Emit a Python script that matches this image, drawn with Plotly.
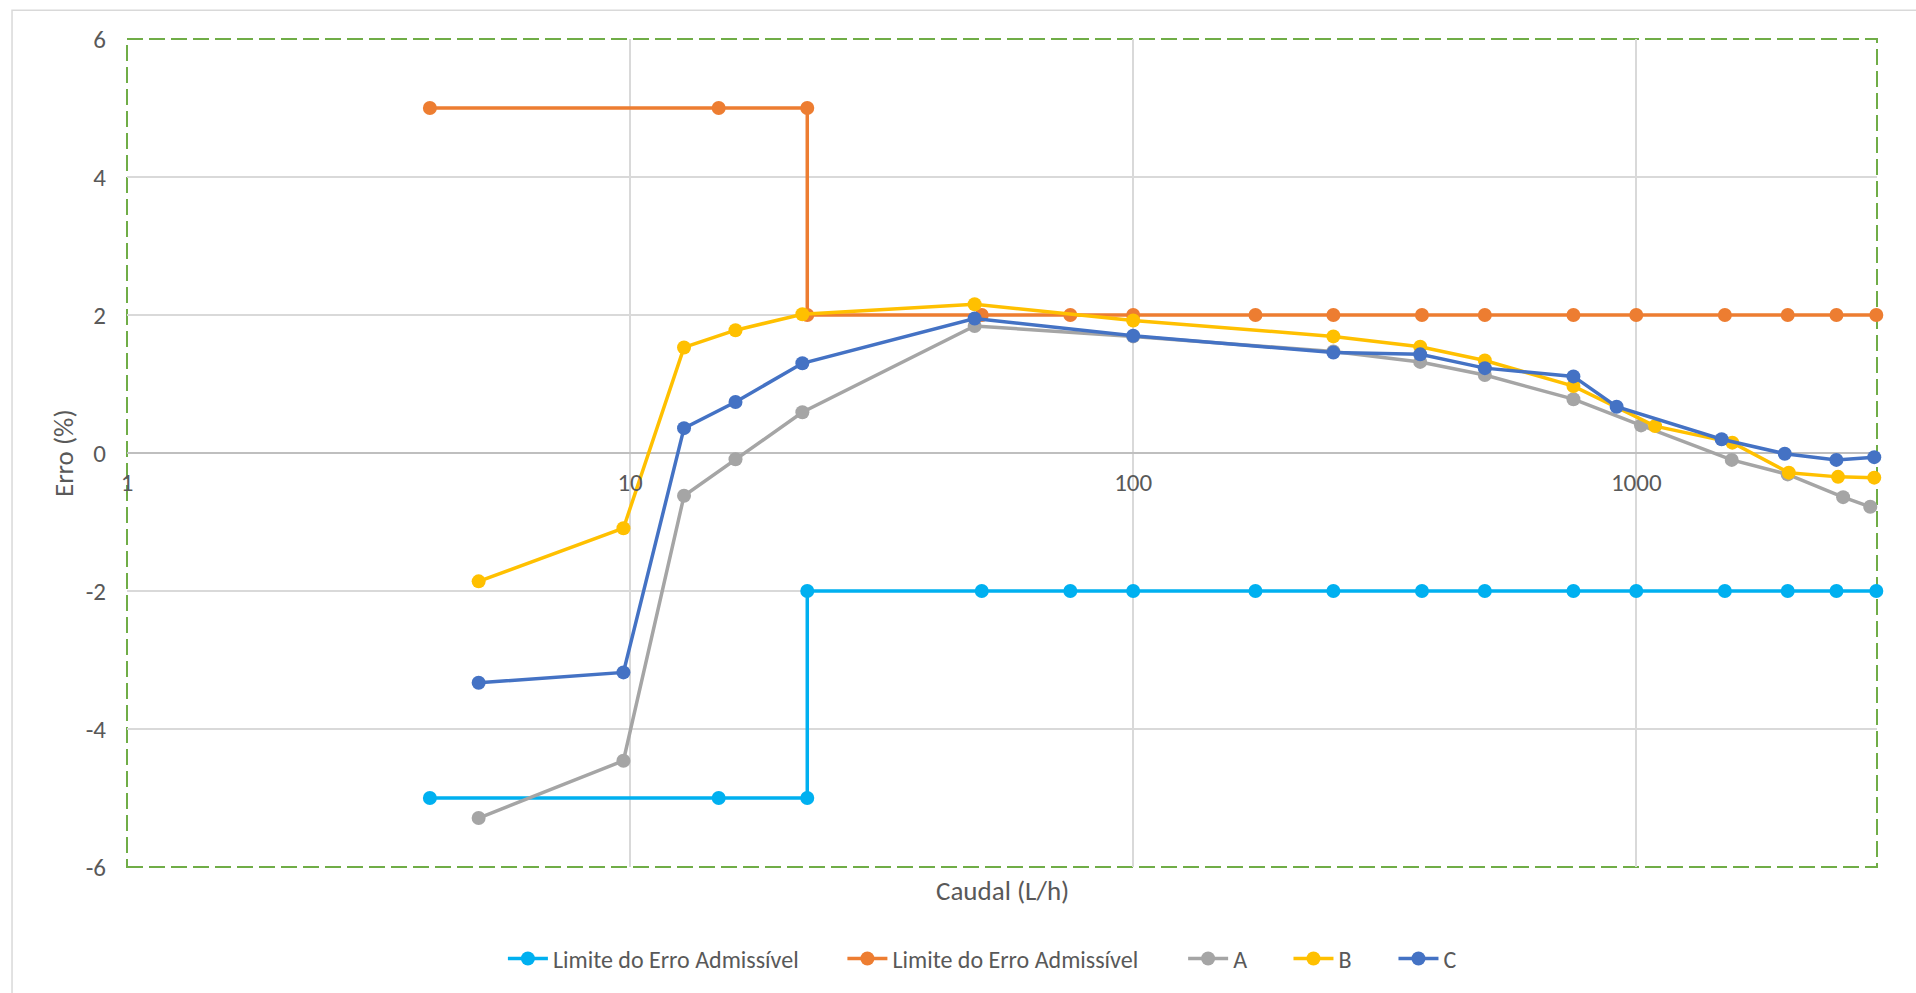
import plotly.graph_objects as go

# Flow rates (L/h) and error limits (%)
limit_x = [4, 15, 22.5, 22.5, 50, 75, 100, 175, 250, 375, 500, 750, 1000, 1500, 2000, 2500, 3000]
limit_lower = [-5, -5, -5, -2, -2, -2, -2, -2, -2, -2, -2, -2, -2, -2, -2, -2, -2]
limit_upper = [5, 5, 5, 2, 2, 2, 2, 2, 2, 2, 2, 2, 2, 2, 2, 2, 2]

# Measured errors for meters A, B and C
a_x = [5, 9.7, 12.8, 16.2, 22, 48.4, 100, 250, 372, 500, 750, 1022, 1548, 2000, 2577, 2918]
a_y = [-5.29, -4.46, -0.62, -0.09, 0.59, 1.84, 1.69, 1.47, 1.32, 1.13, 0.78, 0.40, -0.10, -0.31, -0.64, -0.78]

b_x = [5, 9.7, 12.8, 16.2, 22, 48.4, 100, 250, 372, 500, 750, 1090, 1552, 2010, 2518, 2972]
b_y = [-1.86, -1.09, 1.53, 1.78, 2.01, 2.155, 1.92, 1.69, 1.54, 1.34, 0.97, 0.39, 0.15, -0.285, -0.346, -0.357]

c_x = [5, 9.7, 12.8, 16.2, 22, 48.4, 100, 250, 372, 500, 750, 914, 1478, 1973, 2499, 2972]
c_y = [-3.33, -3.18, 0.36, 0.74, 1.30, 1.95, 1.70, 1.455, 1.43, 1.23, 1.11, 0.67, 0.20, -0.01, -0.10, -0.06]

y_ticks = [-6, -4, -2, 0, 2, 4, 6]
x_ticks = [1, 10, 100, 1000]

FONT = "Calibri, Carlito, Lato, sans-serif"
TEXT = "#595959"

# name, x, y, colour, legend id, legend left edge (paper x)
series = [
    ("Limite do Erro Admissível", limit_x, limit_lower, "#00B0F0", "legend", 0.2148),
    ("Limite do Erro Admissível", limit_x, limit_upper, "#ED7D31", "legend2", 0.4088),
    ("A", a_x, a_y, "#A5A5A5", "legend3", 0.6035),
    ("B", b_x, b_y, "#FFC000", "legend4", 0.6637),
    ("C", c_x, c_y, "#4472C4", "legend5", 0.7237),
]

fig = go.Figure()
legends = {}
for name, xs, ys, color, leg, lx in series:
    fig.add_trace(go.Scatter(
        x=xs, y=ys, name=name, mode="lines+markers",
        line=dict(color=color, width=3.5),
        marker=dict(color=color, size=14),
        cliponaxis=False, legend=leg,
    ))
    legends[leg] = dict(
        orientation="h", x=lx, xanchor="left", y=-0.111, yanchor="middle",
        font=dict(family=FONT, size=24, color=TEXT),
        bgcolor="rgba(0,0,0,0)", itemwidth=40,
    )

fig.update_layout(
    width=1916, height=993,
    margin=dict(l=127, r=39, t=39, b=126),
    paper_bgcolor="white", plot_bgcolor="white",
    font=dict(family=FONT, size=24, color=TEXT),
    showlegend=True,
    xaxis=dict(
        type="log", range=[0, 3.4785],
        tickvals=x_ticks, ticktext=[str(v) for v in x_ticks],
        showgrid=True, gridcolor="#D9D9D9", gridwidth=1.5,
        showline=False, zeroline=False, ticks="",
        anchor="free", position=0.5, ticklabelstandoff=12,
        tickfont=dict(family=FONT, size=25, color=TEXT),
    ),
    yaxis=dict(
        range=[-6, 6], tickvals=y_ticks, ticktext=[str(v) for v in y_ticks],
        showgrid=True, gridcolor="#D9D9D9", gridwidth=1.5,
        zeroline=True, zerolinecolor="#BFBFBF", zerolinewidth=2,
        showline=False, ticks="", ticklabelstandoff=20,
        tickfont=dict(family=FONT, size=25, color=TEXT),
    ),
    annotations=[
        dict(text="Erro (%)", xref="paper", yref="paper", x=0, xshift=-64, y=0.5,
             textangle=-90, showarrow=False, xanchor="center", yanchor="middle",
             font=dict(family=FONT, size=27, color=TEXT)),
        dict(text="Caudal (L/h)", xref="paper", yref="paper", x=0.5, y=-0.028,
             showarrow=False, xanchor="center", yanchor="middle",
             font=dict(family=FONT, size=27, color=TEXT)),
    ],
    shapes=[
        # chart frame
        dict(type="rect", xref="paper", yref="paper", x0=-0.0657, y0=-0.3, x1=1.2, y1=1.0346,
             line=dict(color="#D9D9D9", width=1.5), layer="below"),
        # plot-area frame
        dict(type="rect", xref="paper", yref="paper", x0=0, y0=0, x1=1, y1=1,
             line=dict(color="#70AD47", width=2, dash="16px,6px"), layer="between"),
    ],
)
fig.update_layout(**legends)

fig.write_html("out.html")
